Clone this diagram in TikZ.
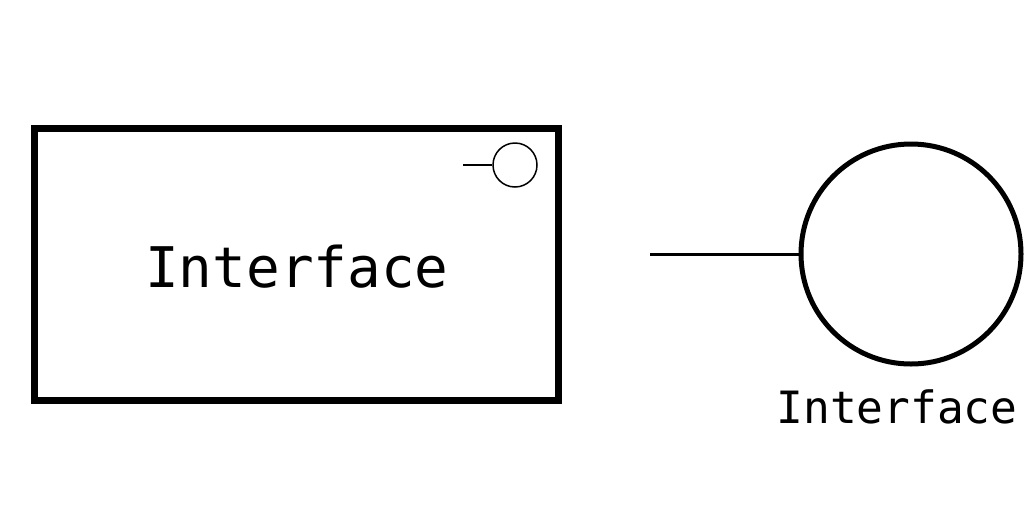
\documentclass[tikz,border=0pt]{standalone}
\usepackage{fontspec}
\setmonofont{DejaVu Sans Mono}
\begin{document}
\begin{tikzpicture}[x=1pt,y=-1pt,
  box/.style={draw=black,line width=7pt,inner sep=0pt,minimum width=524pt,minimum height=272pt},
  bigcirc/.style={draw=black,circle,line width=5pt,inner sep=0pt,minimum size=220pt},
  smallcirc/.style={draw=black,circle,line width=1.5pt,inner sep=0pt,minimum size=44pt},
  conn/.style={draw=black,line width=3pt},
  thin/.style={draw=black,line width=1.5pt},
  lbl/.style={font=\ttfamily,inner sep=0pt,anchor=base}]
\useasboundingbox (0,0) rectangle (1024,512);
\node[box] (rect) at (296,264) {};
\node[lbl,font=\ttfamily\fontsize{56}{60}\selectfont] (rtext) at (297,287) {Interface};
\node[smallcirc] (sc) at (515,165) {};
\coordinate (scl) at (463,165);
\draw[thin] (scl) -- (sc.west);
\node[bigcirc] (bc) at (911,254) {};
\coordinate (lend) at (650,254);
\draw[conn] (lend) -- (bc.west);
\node[lbl,font=\ttfamily\fontsize{44.5}{50}\selectfont] (ctext) at (897,423) {Interface};
\end{tikzpicture}
\end{document}
